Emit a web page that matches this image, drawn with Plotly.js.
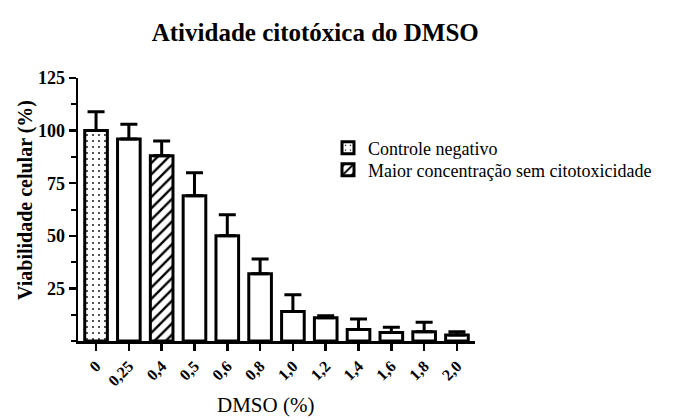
<!DOCTYPE html>
<html>
<head>
<meta charset="utf-8">
<script src="https://cdn.plot.ly/plotly-3.0.1.min.js"></script>
<style>
  html, body { margin: 0; padding: 0; background: #fff; }
  #chart { width: 678px; height: 420px; }
</style>
</head>
<body>
<div id="chart"></div>
<script>
// DMSO concentrations (%) shown on the x axis
const categories = ['0', '0,25', '0,4', '0,5', '0,6', '0,8', '1,0', '1,2', '1,4', '1,6', '1,8', '2,0'];
// Mean cell viability (%) for each concentration
const viability = [100, 96, 88, 69, 50, 32, 14, 11, 5.5, 4, 4.4, 2.9];
// Standard deviation (upper error bar)
const deviation = [9, 7, 7, 11, 10, 7, 8, 1, 5, 2.5, 4.5, 1.5];
// Labelled y-axis ticks
const yTicks = [25, 50, 75, 100, 125];

const controlIndex = 0;        // negative control
const highestSafeIndex = 2;    // highest concentration without cytotoxicity

const serif = 'Liberation Serif, Times New Roman, serif';
const bold = s => '<b>' + s + '</b>';
const barWidth = 0.69;
const outline = { color: '#000', width: 3 };

function errorBars(values) {
  return {
    type: 'data', symmetric: false,
    array: values, arrayminus: values.map(() => 0),
    color: '#000', thickness: 3, width: 8.5
  };
}

const otherIdx = categories.map((_, i) => i).filter(i => i !== controlIndex && i !== highestSafeIndex);

const traces = [
  {
    type: 'bar',
    name: 'Controle negativo',
    legend: 'legend',
    x: [categories[controlIndex]],
    y: [viability[controlIndex]],
    width: barWidth,
    marker: {
      color: '#fff',
      line: outline,
      pattern: { shape: '.', fgcolor: '#000', bgcolor: '#fff', size: 6, solidity: 0.07 }
    },
    error_y: errorBars([deviation[controlIndex]])
  },
  {
    type: 'bar',
    name: 'Maior concentração sem citotoxicidade',
    legend: 'legend2',
    x: [categories[highestSafeIndex]],
    y: [viability[highestSafeIndex]],
    width: barWidth,
    marker: {
      color: '#fff',
      line: outline,
      pattern: { shape: '/', fgcolor: '#000', bgcolor: '#fff', size: 8, solidity: 0.3 }
    },
    error_y: errorBars([deviation[highestSafeIndex]])
  },
  {
    type: 'bar',
    name: 'DMSO',
    showlegend: false,
    x: otherIdx.map(i => categories[i]),
    y: otherIdx.map(i => viability[i]),
    width: barWidth,
    marker: { color: '#fff', line: outline },
    error_y: errorBars(otherIdx.map(i => deviation[i]))
  }
];

// plot area: x 78..475 px, y 78..341 px
const legendText = { family: serif, size: 18, color: '#000' };

const layout = {
  width: 678,
  height: 420,
  margin: { l: 78, r: 203, t: 78, b: 79 },
  paper_bgcolor: '#fff',
  plot_bgcolor: '#fff',
  barmode: 'overlay',
  font: { family: serif, color: '#000', size: 17 },
  title: {
    text: bold('Atividade citotóxica do DMSO'),
    font: { family: serif, size: 25, color: '#000' },
    x: 0.465, xanchor: 'center',
    y: 0.924, yanchor: 'middle'
  },
  xaxis: {
    type: 'category',
    categoryorder: 'array',
    categoryarray: categories,
    tickmode: 'array',
    tickvals: categories,
    ticktext: categories.map(bold),
    range: [-0.55, 11.55],
    automargin: false,
    showline: true, linecolor: '#000', linewidth: 2.5,
    ticks: 'outside', ticklen: 7, tickwidth: 2.5, tickcolor: '#000',
    tickangle: -45,
    tickfont: { family: serif, size: 16, color: '#000' },
    showgrid: false, zeroline: false
  },
  yaxis: {
    range: [0, 125],
    automargin: false,
    tickmode: 'array',
    tickvals: yTicks,
    ticktext: yTicks.map(v => bold(String(v))),
    showline: true, linecolor: '#000', linewidth: 2.5,
    ticks: 'outside', ticklen: 7, tickwidth: 2.5, tickcolor: '#000',
    minor: { tickmode: 'linear', tick0: 0, dtick: 12.5, ticks: 'outside', ticklen: 5, tickwidth: 2, tickcolor: '#000' },
    tickfont: { family: serif, size: 18, color: '#000' },
    showgrid: false, zeroline: false
  },
  annotations: [
    {
      // x-axis title
      text: 'DMSO (%)',
      xref: 'paper', x: (265 - 78) / 397, xanchor: 'center',
      yref: 'paper', y: -(405 - 341) / 263, yanchor: 'middle',
      showarrow: false,
      font: { family: serif, size: 21, color: '#000' }
    },
    {
      // y-axis title
      text: bold('Viabilidade celular (%)'),
      textangle: -90,
      xref: 'paper', x: -(78 - 25) / 397, xanchor: 'center',
      yref: 'paper', y: (341 - 200) / 263, yanchor: 'middle',
      showarrow: false,
      font: { family: serif, size: 20, color: '#000' }
    }
  ],
  legend: {
    x: (328 - 78) / 397, xanchor: 'left',
    y: (341 - 148) / 263, yanchor: 'middle',
    font: legendText,
    bgcolor: 'rgba(0,0,0,0)'
  },
  legend2: {
    x: (328 - 78) / 397, xanchor: 'left',
    y: (341 - 170) / 263, yanchor: 'middle',
    font: legendText,
    bgcolor: 'rgba(0,0,0,0)'
  },
  showlegend: true
};

Plotly.newPlot('chart', traces, layout, { displayModeBar: false, staticPlot: true });
</script>
</body>
</html>
